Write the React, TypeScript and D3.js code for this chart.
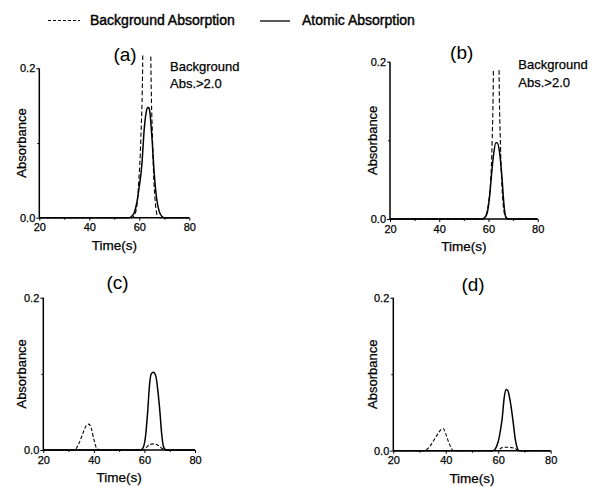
import React, { useEffect, useRef } from "react";
import * as d3 from "d3";

// ---------- data ----------
const X_TICKS = [20, 40, 60, 80];
const X_MINOR = [30, 50, 70];
const Y_TICKS = [0.0, 0.2];
const Y_MINOR = [0.1];
const LEGEND_LABELS = ["Background Absorption", "Atomic Absorption"];
const PANEL_TITLES = ["(a)", "(b)", "(c)", "(d)"];
const NOTE_LINES = ["Background", "Abs.>2.0"];
const X_LABEL = "Time(s)";
const Y_LABEL = "Absorbance";

type Pt = [number, number];

const atomicA: Pt[] = [
  [20, 0], [56, 0], [57, 0.002], [58, 0.007], [59, 0.02], [60, 0.042], [61, 0.07],
  [62, 0.12], [63, 0.145], [63.5, 0.148], [64, 0.146], [65, 0.11], [66, 0.058],
  [67, 0.024], [68, 0.008], [69, 0.002], [70, 0], [80, 0],
];
const backgroundA: Pt[] = [
  [20, 0], [57, 0], [58, 0.003], [59, 0.015], [59.8, 0.05], [60.6, 0.104], [61.4, 0.218],
  [61.6, 0.3], [63, 2.5], [64.4, 0.3], [64.6, 0.218], [65.3, 0.104], [65.7, 0.06],
  [66.3, 0.025], [67, 0.005], [68, 0], [80, 0],
];
const atomicB: Pt[] = [
  [20, 0], [57.5, 0], [58.5, 0.002], [59.5, 0.008], [60.5, 0.03], [61, 0.048],
  [62, 0.08], [63, 0.097], [63.5, 0.097], [64.5, 0.085], [65.5, 0.052], [66, 0.03],
  [66.5, 0.012], [67, 0.003], [68, 0], [80, 0],
];
const backgroundB: Pt[] = [
  [20, 0], [57.5, 0], [59, 0.005], [60, 0.02], [61, 0.054], [61.5, 0.1], [62, 0.19],
  [62.2, 0.3], [63.2, 2.5], [64.1, 0.3], [64.3, 0.19], [64.9, 0.092], [65.5, 0.04],
  [66.2, 0.012], [67, 0.002], [68, 0], [80, 0],
];
const atomicC: Pt[] = [
  [20, 0], [58.5, 0], [59.5, 0.003], [60.5, 0.02], [61.3, 0.051], [62, 0.085],
  [62.7, 0.1], [63.5, 0.102], [64.5, 0.097], [65.5, 0.072], [66.1, 0.051],
  [66.8, 0.022], [67.5, 0.005], [68.5, 0], [80, 0],
];
const backgroundC: Pt[] = [
  [20, 0], [32, 0], [33, 0.002], [34, 0.008], [35, 0.016], [36, 0.025], [37, 0.032],
  [38, 0.034], [39, 0.028], [40, 0.014], [41, 0.003], [42, 0.0005], [43, 0],
  [59, 0], [60, 0.001], [61, 0.004], [62, 0.007], [63.5, 0.008], [65, 0.007],
  [66, 0.005], [67, 0.002], [68, 0.0005], [69, 0], [80, 0],
];
const atomicD: Pt[] = [
  [20, 0], [58, 0], [59, 0.003], [60, 0.012], [61, 0.03], [61.5, 0.042], [62.3, 0.07],
  [63, 0.08], [63.6, 0.079], [64.5, 0.066], [65.6, 0.04], [66.5, 0.015],
  [67.3, 0.003], [68, 0], [80, 0],
];
const backgroundD: Pt[] = [
  [20, 0], [31.5, 0], [32.5, 0.001], [34, 0.006], [35.5, 0.014], [37, 0.022],
  [38.3, 0.028], [39, 0.029], [40, 0.022], [41, 0.012], [42, 0.004], [43, 0],
  [59.5, 0], [60.5, 0.002], [61.5, 0.004], [63, 0.0045], [65, 0.004], [66.5, 0.003],
  [67.5, 0], [80, 0],
];

// ---------- layout ----------
const PANELS = [
  { title: PANEL_TITLES[0], atomic: atomicA, background: backgroundA, left: 39.3, right: 189.3, top: 68.3, bottom: 217.7, titleX: 125, titleY: 61, yLabOff: 13.5, note: true, noteX: 170, noteY: 70.5, clipMax: 0.218, dash: "4.5,2.5" },
  { title: PANEL_TITLES[1], atomic: atomicB, background: backgroundB, left: 390, right: 537.7, top: 61.7, bottom: 219, titleX: 461.7, titleY: 59, yLabOff: 13, note: true, noteX: 518.3, noteY: 69.3, clipMax: 0.19, dash: "4.5,2.5" },
  { title: PANEL_TITLES[2], atomic: atomicC, background: backgroundC, left: 43.3, right: 195, top: 297.7, bottom: 450, titleX: 117.5, titleY: 289, yLabOff: 17.5, note: false, noteX: 0, noteY: 0, clipMax: 0.2, dash: "3.5,2" },
  { title: PANEL_TITLES[3], atomic: atomicD, background: backgroundD, left: 393.3, right: 550.7, top: 297.7, bottom: 450.7, titleX: 473, titleY: 291, yLabOff: 16, note: false, noteX: 0, noteY: 0, clipMax: 0.2, dash: "3.5,2" },
];

const FONT = "'Liberation Sans', Arial, sans-serif";
const TEXT_STROKE = 0.25;

export default function App() {
  const ref = useRef<SVGSVGElement>(null);

  useEffect(() => {
    const svg = d3.select(ref.current);
    svg.selectAll("*").remove();
    svg.append("rect").attr("width", 600).attr("height", 487).attr("fill", "#fff");

    // legend
    const lg = svg.append("g").attr("font-family", FONT).attr("font-size", 14);
    lg.append("line").attr("x1", 48).attr("x2", 80).attr("y1", 20.5).attr("y2", 20.5)
      .attr("stroke", "#000").attr("stroke-width", 1).attr("stroke-dasharray", "3,2");
    lg.append("text").attr("x", 90).attr("y", 25).text(LEGEND_LABELS[0])
      .attr("stroke", "#000").attr("stroke-width", 0.4);
    lg.append("line").attr("x1", 260).attr("x2", 290).attr("y1", 21).attr("y2", 21)
      .attr("stroke", "#000").attr("stroke-width", 1.3);
    lg.append("text").attr("x", 302).attr("y", 25).text(LEGEND_LABELS[1])
      .attr("stroke", "#000").attr("stroke-width", 0.4);

    PANELS.forEach((p, i) => {
      const x = d3.scaleLinear().domain([20, 80]).range([p.left, p.right]);
      const y = d3.scaleLinear().domain([0, 0.2]).range([p.bottom, p.top]);
      const g = svg.append("g").attr("font-family", FONT);

      // clip
      const clipId = `clip-${i}`;
      g.append("clipPath").attr("id", clipId).append("rect")
        .attr("x", p.left).attr("y", y(p.clipMax))
        .attr("width", p.right - p.left).attr("height", p.bottom - y(p.clipMax) + 2);

      // axes
      const xAxis = d3.axisBottom(x).tickValues(X_TICKS).tickSize(3).tickPadding(3)
        .tickFormat(d3.format("d"));
      const gx = g.append("g").attr("transform", `translate(0,${p.bottom})`).call(xAxis);
      const xMinor = d3.axisBottom(x).tickValues(X_MINOR).tickSize(2).tickFormat(() => "");
      const gxm = g.append("g").attr("transform", `translate(0,${p.bottom})`).call(xMinor);
      gxm.select(".domain").remove();

      const yAxis = d3.axisLeft(y).tickValues(Y_TICKS).tickSize(3).tickPadding(1)
        .tickFormat(d3.format(".1f"));
      const gy = g.append("g").attr("transform", `translate(${p.left},0)`).call(yAxis);
      const yMinor = d3.axisLeft(y).tickValues(Y_MINOR).tickSize(2).tickFormat(() => "");
      const gym = g.append("g").attr("transform", `translate(${p.left},0)`).call(yMinor);
      gym.select(".domain").remove();

      [gx, gy].forEach((ax) => {
        ax.select(".domain").attr("stroke-width", 1.5).attr("d",
          ax === gx ? `M${p.left},0H${p.right}` : `M0,${p.top}V${p.bottom}`);
        ax.selectAll("text").attr("font-size", 11).attr("font-family", FONT).attr("fill", "#000")
          .attr("stroke", "#000").attr("stroke-width", TEXT_STROKE);
        ax.selectAll("line").attr("stroke-width", 1);
      });
      [gxm, gym].forEach((ax) => ax.selectAll("line").attr("stroke-width", 1));

      // lines
      const line = d3.line<Pt>().x((d) => x(d[0])).y((d) => y(d[1])).curve(d3.curveMonotoneX);
      const plot = g.append("g").attr("clip-path", `url(#${clipId})`);
      plot.append("path").attr("d", line(p.background)).attr("fill", "none")
        .attr("stroke", "#000").attr("stroke-width", 1.1).attr("stroke-dasharray", p.dash);
      plot.append("path").attr("d", line(p.atomic)).attr("fill", "none")
        .attr("stroke", "#000").attr("stroke-width", 1.5);

      // labels
      const txt = (sel: any) => sel.attr("stroke", "#000").attr("stroke-width", TEXT_STROKE);
      g.append("text").attr("x", p.titleX).attr("y", p.titleY).attr("text-anchor", "middle")
        .attr("font-size", 19).text(p.title);
      txt(g.append("text").attr("x", (p.left + p.right) / 2).attr("y", p.bottom + 32)
        .attr("text-anchor", "middle").attr("font-size", 13.5).text(X_LABEL));
      txt(g.append("text")
        .attr("transform", `translate(${p.left - p.yLabOff},${(p.top + p.bottom) / 2}) rotate(-90)`)
        .attr("text-anchor", "middle").attr("font-size", 13).text(Y_LABEL));
      if (p.note) {
        NOTE_LINES.forEach((t, k) => {
          txt(g.append("text").attr("x", p.noteX).attr("y", p.noteY + k * 17.5)
            .attr("font-size", 13).text(t));
        });
      }
    });
  }, []);

  return (
    <svg ref={ref} width={600} height={487}
      style={{ position: "absolute", left: 0, top: 0, display: "block" }} />
  );
}
